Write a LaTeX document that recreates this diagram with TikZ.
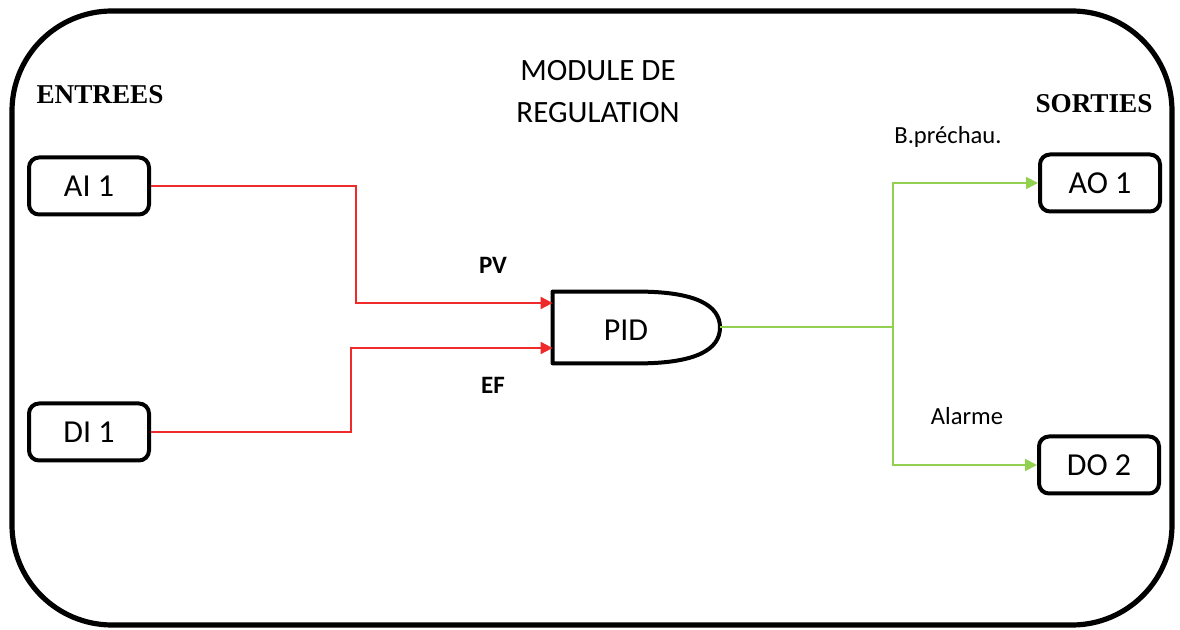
\documentclass[tikz,border=0pt]{standalone}
\usepackage{fontspec}
\setmainfont{Carlito}
\newfontfamily\titlefont{Liberation Serif}
\usepackage{tikz}
\usetikzlibrary{arrows.meta}
\definecolor{sigred}{HTML}{EE2A2A}
\definecolor{siggreen}{HTML}{92D050}

\begin{document}
\begin{tikzpicture}[x=0.5pt,y=-0.5pt,
  frame/.style={draw,line width=2.6pt,rounded corners=50pt,minimum width=580pt,minimum height=307pt,inner sep=0pt},
  io/.style={draw,line width=2pt,rounded corners=5pt,minimum width=60pt,minimum height=28.5pt,font=\fontsize{16}{18}\selectfont,inner sep=0pt},
  head/.style={font=\titlefont\bfseries\fontsize{13.6}{15}\selectfont},
  lbl/.style={font=\fontsize{12.3}{14}\selectfont},
  sig/.style={font=\bfseries\fontsize{12.5}{14}\selectfont},
  redwire/.style={-{Triangle[length=6pt,width=6pt]},draw=sigred,line width=1pt},
  greenwire/.style={draw=siggreen,line width=1pt},
  greenarrow/.style={-{Triangle[length=6pt,width=6pt]},draw=siggreen,line width=1pt}]
\useasboundingbox (0,0) rectangle (1180,630);
\node[frame] (module) at (592,318) {};
\node[head] (entrees) at (100,95) {ENTREES};
\node[head] (sorties) at (1094,104) {SORTIES};
\node[font=\fontsize{15.5}{21}\selectfont,align=center] (title) at (598,92) {MODULE DE\\REGULATION};
\node[io] (ai1) at (89,186) {AI 1};
\node[io] (di1) at (89,432) {DI 1};
\node[io] (ao1) at (1100,183) {AO 1};
\node[io] (do2) at (1099,465) {DO 2};
\node[minimum width=43.5pt,minimum height=35.5pt,inner sep=0pt] (pid) at (596.5,327.5) {};
\node[font=\fontsize{16}{18}\selectfont] (pidtext) at (626,330) {PID};
\coordinate (tip) at (720,327.5);
\draw[line width=2pt,line join=round] (pid.north east) -- (pid.north west) -- (pid.south west) -- (pid.south east)
  .. controls (695,363) and (720,350) .. (tip) .. controls (720,305) and (695,292) .. (pid.north east);
\coordinate (pvknee) at (356,303);
\coordinate (efknee) at (351,348);
\coordinate (split) at (893,327.5);
\draw[redwire] (ai1.east) -| (pvknee) -- (pid.west |- pvknee);
\draw[redwire] (di1.east) -| (efknee) -- (pid.west |- efknee);
\node[sig] (pv) at (493,265) {PV};
\node[sig] (ef) at (493,385) {EF};
\draw[greenwire] (tip) -- (split);
\draw[greenarrow] (split) |- (ao1.west);
\draw[greenarrow] (split) |- (do2.west);
\node[lbl] (bprechau) at (948,137) {B.préchau.};
\node[lbl] (alarme) at (967,416) {Alarme};
\end{tikzpicture}
\end{document}
